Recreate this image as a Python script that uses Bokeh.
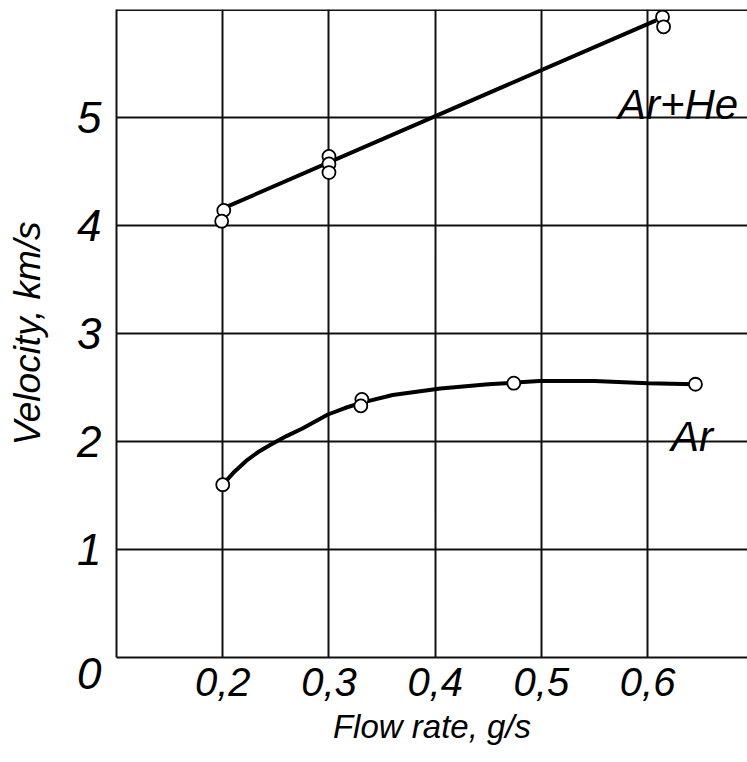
from bokeh.plotting import figure
from bokeh.models import Span, FixedTicker, Range1d
from bokeh.core.properties import value
from bokeh.embed import file_html
from bokeh.resources import INLINE

# ---- data ----
arhe_x = [0.201, 0.199, 0.300, 0.300, 0.300, 0.614, 0.615]
arhe_y = [4.14, 4.04, 4.64, 4.57, 4.49, 5.93, 5.84]
arhe_fit_x = [0.203, 0.608]
arhe_fit_y = [4.17, 5.90]

ar_x = [0.200, 0.331, 0.330, 0.474, 0.645]
ar_y = [1.60, 2.39, 2.33, 2.54, 2.53]
ar_curve_x = [0.200, 0.210, 0.222, 0.233, 0.245, 0.260, 0.275, 0.299, 0.315, 0.331,
              0.360, 0.405, 0.450, 0.498, 0.550, 0.600, 0.645]
ar_curve_y = [1.60, 1.71, 1.82, 1.90, 1.97, 2.05, 2.12, 2.25, 2.31, 2.36,
              2.43, 2.49, 2.53, 2.56, 2.56, 2.54, 2.53]

x_ticks = [0.2, 0.3, 0.4, 0.5, 0.6]
x_tick_labels = ["0,2", "0,3", "0,4", "0,5", "0,6"]
y_ticks = [0, 1, 2, 3, 4, 5]
y_tick_labels = ["\n0", "1", "2", "3", "4", "5"]

FONT = "Liberation Sans"

p = figure(width=747, height=762, output_backend="svg", toolbar_location=None,
           x_range=Range1d(0.1, 0.694), y_range=Range1d(0, 6.0),
           min_border_left=116, min_border_right=0, min_border_top=9,
           min_border_bottom=105, background_fill_color="white",
           border_fill_color="white")
p.outline_line_color = None

# grid
for g in p.grid:
    g.grid_line_color = "#111111"
    g.grid_line_width = 2
p.xgrid.ticker = FixedTicker(ticks=x_ticks)
p.ygrid.ticker = FixedTicker(ticks=y_ticks[1:])
p.add_layout(Span(location=5.995, dimension="width", line_color="#111111", line_width=2))

# axes
p.xaxis.ticker = FixedTicker(ticks=x_ticks)
p.xaxis.major_label_overrides = {t: l for t, l in zip(x_ticks, x_tick_labels)}
p.yaxis.ticker = FixedTicker(ticks=y_ticks)
p.yaxis.major_label_overrides = {t: l for t, l in zip(y_ticks, y_tick_labels)}
for ax in (p.xaxis[0], p.yaxis[0]):
    ax.axis_line_color = "#111111"
    ax.axis_line_width = 2
    ax.major_tick_line_color = None
    ax.minor_tick_line_color = None
    ax.major_tick_out = 0
    ax.major_tick_in = 0
    ax.major_label_text_font = FONT
    ax.major_label_text_font_style = "italic"
    ax.major_label_text_color = "black"
    ax.axis_label_text_font = FONT
    ax.axis_label_text_font_style = "italic"
    ax.axis_label_text_color = "black"

p.xaxis.major_label_text_font_size = "40px"
p.xaxis.major_label_standoff = 10
p.xaxis.axis_label = "Flow rate, g/s"
p.xaxis.axis_label_text_font_size = "33px"
p.xaxis.axis_label_standoff = 9

p.yaxis.major_label_text_font_size = "44px"
p.yaxis.major_label_standoff = 15
p.yaxis.major_label_text_line_height = 0.65
p.yaxis.axis_label = "Velocity, km/s"
p.yaxis.axis_label_text_font_size = "37px"
p.yaxis.axis_label_standoff = 26

# curves
p.line(arhe_fit_x, arhe_fit_y, line_color="black", line_width=4)
p.line(ar_curve_x, ar_curve_y, line_color="black", line_width=4)
p.scatter(arhe_x, arhe_y, marker="circle", size=13, fill_color="white",
          line_color="black", line_width=1.8)
p.scatter(ar_x, ar_y, marker="circle", size=13, fill_color="white",
          line_color="black", line_width=1.8)

# series labels
p.text(x=[0.572], y=[5.125], text=["Ar+He"], text_font=value(FONT), text_font_style="italic",
       text_font_size="42px", text_align="left", text_baseline="alphabetic", text_color="black")
p.text(x=[0.622], y=[2.05], text=["Ar"], text_font=value(FONT), text_font_style="italic",
       text_font_size="42px", text_align="left", text_baseline="alphabetic", text_color="black")

open("out.html", "w").write(file_html(p, INLINE))
